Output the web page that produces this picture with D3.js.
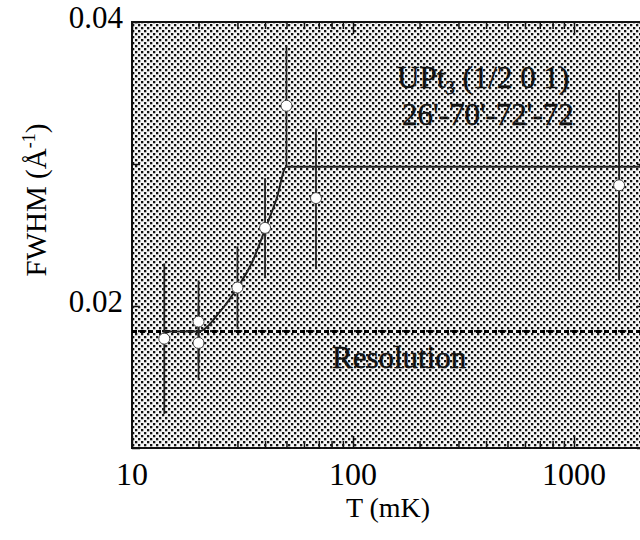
<!DOCTYPE html>
<html>
<head>
<meta http-equiv="content-type" content="text/html; charset=UTF8">
<script src="https://cdn.jsdelivr.net/npm/d3@7/dist/d3.min.js"></script>
<style>
body { margin: 0; background: #fff; }
svg { display: block; font-family: "Liberation Serif", "DejaVu Serif", serif; }
</style>
</head>
<body>
<svg class="chart" width="640" height="540"></svg>
<script>
// measured points (T in mK, FWHM in 1/A, error half-height)
var temps = [14, 20, 20, 30, 40, 50, 68, 1600];
var fwhm = [0.0177, 0.0189, 0.0174, 0.0213, 0.0255, 0.0341, 0.0276, 0.0285];
var errs = [0.0053, 0.0029, 0.0026, 0.0029, 0.0035, 0.0042, 0.0049, 0.0067];

// guide line drawn through the data
var fitT = [14, 20, 25, 30, 35, 40, 45, 50, 2500];
var fitW = [0.0182, 0.0182, 0.0196, 0.0213, 0.0231, 0.0254, 0.0275, 0.0298, 0.0298];

var resolution = 0.0182;

var xTickLabels = [10, 100, 1000];
var yTickLabels = [0.02, 0.04];

var pLeft = 132, pRight = 645, pTop = 22, pBottom = 448;

var svg = d3.select(".chart");

var x = d3.scaleLog().domain([10, 1000]).range([pLeft, 574]);
var y = d3.scaleLinear().domain([0.01, 0.04]).range([pBottom, pTop]);

// stipple fill of the plot area
var defs = svg.append("defs");
var pat = defs.append("pattern")
	.attr("id", "dots")
	.attr("patternUnits", "userSpaceOnUse")
	.attr("width", 6)
	.attr("height", 6);
pat.append("rect").attr("width", 6).attr("height", 6).attr("fill", "#f6f6f6");
pat.append("rect").attr("x", 0).attr("y", 0).attr("width", 2.3).attr("height", 2.3).attr("fill", "#111");
pat.append("rect").attr("x", 3).attr("y", 3).attr("width", 2.3).attr("height", 2.3).attr("fill", "#111");

svg.append("rect")
	.attr("x", pLeft)
	.attr("y", pTop)
	.attr("width", pRight - pLeft)
	.attr("height", pBottom - pTop)
	.attr("fill", "url(#dots)");

// axes with inward ticks
var minorX = [];
[10, 100, 1000].forEach(function(d) {
	for (var k = 2; k <= 9; k++) if (d * k < 2500) minorX.push(d * k);
});

function tickGroup(axis, pos) {
	var g = svg.append("g").attr("transform", pos).call(axis);
	g.select(".domain").remove();
	g.selectAll("line").attr("stroke", "#111").attr("stroke-width", 1.5);
	g.selectAll("text").remove();
	return g;
}

tickGroup(d3.axisBottom(x).tickValues(minorX).tickSize(-7), "translate(0," + pBottom + ")");
tickGroup(d3.axisBottom(x).tickValues([10, 100, 1000]).tickSize(-12), "translate(0," + pBottom + ")");
tickGroup(d3.axisTop(x).tickValues(minorX).tickSize(-7), "translate(0," + pTop + ")");
tickGroup(d3.axisTop(x).tickValues([10, 100, 1000]).tickSize(-12), "translate(0," + pTop + ")");
tickGroup(d3.axisLeft(y).tickValues([0.01, 0.02, 0.03, 0.04]).tickSize(-8), "translate(" + pLeft + ",0)");
tickGroup(d3.axisRight(y).tickValues([0.01, 0.02, 0.03, 0.04]).tickSize(-8), "translate(" + pRight + ",0)");

// frame
svg.append("rect")
	.attr("x", pLeft)
	.attr("y", pTop)
	.attr("width", pRight - pLeft)
	.attr("height", pBottom - pTop)
	.attr("fill", "none")
	.attr("stroke", "#111")
	.attr("stroke-width", 2);

// resolution line
svg.append("line")
	.attr("x1", pLeft)
	.attr("x2", pRight)
	.attr("y1", y(resolution))
	.attr("y2", y(resolution))
	.attr("stroke", "#000")
	.attr("stroke-width", 3)
	.attr("stroke-dasharray", "5,3");

// guide line
var line = d3.line()
	.x(function(d) { return x(d[0]); })
	.y(function(d) { return y(d[1]); })
	.curve(d3.curveMonotoneX);

svg.append("path")
	.datum(d3.zip(fitT, fitW))
	.attr("d", line)
	.attr("fill", "none")
	.attr("stroke", "#222")
	.attr("stroke-width", 2);

// error bars, then points on top
var idx = d3.range(temps.length);

svg.append("g")
	.selectAll("line")
	.data(idx)
	.enter()
	.append("line")
	.attr("x1", function(i) { return x(temps[i]); })
	.attr("x2", function(i) { return x(temps[i]); })
	.attr("y1", function(i) { return y(fwhm[i] - errs[i]); })
	.attr("y2", function(i) { return y(fwhm[i] + errs[i]); })
	.attr("stroke", "#222")
	.attr("stroke-width", 1.8);

svg.append("g")
	.selectAll("circle")
	.data(idx)
	.enter()
	.append("circle")
	.attr("cx", function(i) { return x(temps[i]); })
	.attr("cy", function(i) { return y(fwhm[i]); })
	.attr("r", 5.5)
	.attr("fill", "#fff")
	.attr("stroke", "#444")
	.attr("stroke-width", 1);

// tick labels
svg.append("g")
	.selectAll("text")
	.data(xTickLabels)
	.enter()
	.append("text")
	.attr("x", function(d) { return x(d); })
	.attr("y", 485)
	.attr("text-anchor", "middle")
	.attr("font-size", 32)
	.text(function(d) { return d; });

svg.append("g")
	.selectAll("text")
	.data(yTickLabels)
	.enter()
	.append("text")
	.attr("x", 123)
	.attr("y", function(d) { return y(d) + 6; })
	.attr("text-anchor", "end")
	.attr("font-size", 31)
	.text(function(d) { return d.toFixed(2); });

// axis titles
svg.append("text")
	.attr("x", 388)
	.attr("y", 517)
	.attr("text-anchor", "middle")
	.attr("font-size", 28)
	.text("T (mK)");

var yt = svg.append("text")
	.attr("transform", "translate(46,200) rotate(-90)")
	.attr("text-anchor", "middle")
	.attr("font-size", 29);
yt.append("tspan").text("FWHM  (Å");
yt.append("tspan").attr("font-size", 18).attr("dy", -11).text("-1");
yt.append("tspan").attr("dy", 11).text(")");

// annotations
var t1 = svg.append("text")
	.attr("x", 397)
	.attr("y", 88)
	.attr("font-size", 31)
	.attr("fill", "#111")
	.attr("stroke", "#111")
	.attr("stroke-width", 0.4);
t1.append("tspan").text("UPt");
t1.append("tspan").attr("font-size", 19).attr("dy", 6).text("3");
t1.append("tspan").attr("dy", -6).text(" (1/2 0 1)");

svg.append("text")
	.attr("x", 402)
	.attr("y", 125)
	.attr("font-size", 31)
	.attr("fill", "#111")
	.attr("stroke", "#111")
	.attr("stroke-width", 0.4)
	.text("26'-70'-72'-72");

svg.append("text")
	.attr("x", 332)
	.attr("y", 368)
	.attr("font-size", 31)
	.attr("fill", "#111")
	.attr("stroke", "#111")
	.attr("stroke-width", 0.5)
	.text("Resolution");
</script>
</body>
</html>
